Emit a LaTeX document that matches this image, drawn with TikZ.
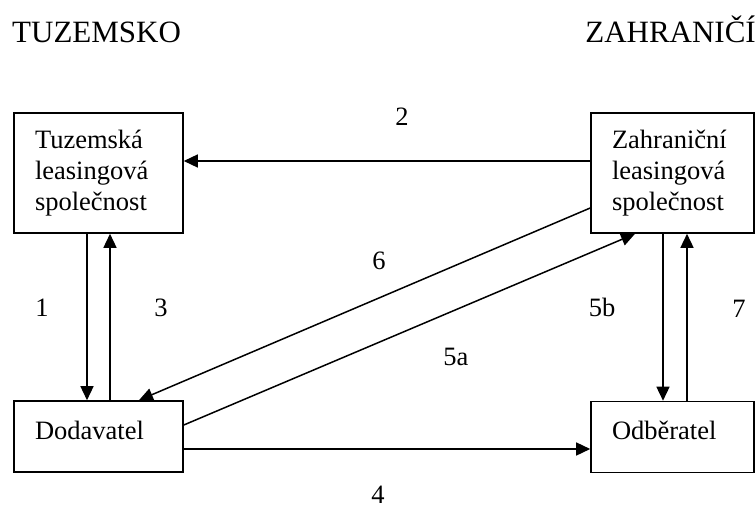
\documentclass[tikz,border=0pt]{standalone}
\usepackage{fontspec}
\setmainfont{Liberation Serif}
\usetikzlibrary{arrows.meta}

\begin{document}
\begin{tikzpicture}[x=1pt,y=-1pt,
  box/.style={draw,line width=1.6pt,inner ysep=0pt,inner xsep=21pt,
    font=\fontsize{26.5}{31}\selectfont,align=left},
  topbox/.style={box,minimum height=120pt},
  lowbox/.style={box,minimum height=71pt,text height=12pt,text depth=7pt},
  num/.style={inner sep=0pt,font=\fontsize{26.5}{31}\selectfont},
  head/.style={inner sep=0pt,font=\fontsize{31}{37}\selectfont},
  flow/.style={line width=1.5pt,-{Triangle[length=14pt,width=13pt]}}]
\useasboundingbox (0,0) rectangle (755,511);

% column headings
\node[head,anchor=base west] (hdom) at (12,43) {TUZEMSKO};
\node[head,anchor=base east] (hfor) at (756,43) {ZAHRANIČÍ};

% parties
\node[topbox,minimum width=169pt,text width=127pt] (tl) at (98.5,173)
  {Tuzemská\\leasingová\\společnost};
\node[topbox,minimum width=163pt,text width=121pt] (tr) at (672.5,173)
  {Zahraniční\\leasingová\\společnost};
\node[lowbox,minimum width=169pt,text width=127pt] (bl) at (98.5,436.5)
  {Dodavatel};
\node[lowbox,minimum width=163pt,text width=121pt] (br) at (672.5,437)
  {Odběratel};

% flows
\draw[flow] ([yshift=12pt]tr.west) -- ([yshift=12pt]tl.east);
\draw[flow] ([xshift=-11.5pt]tl.south) -- ([xshift=-11.5pt]bl.north);
\draw[flow] ([xshift=11.5pt]bl.north) -- ([xshift=11.5pt]tl.south);
\draw[flow] ([yshift=-35pt]tr.west) -- ([xshift=40.5pt]bl.north);
\draw[flow] ([yshift=11.5pt]bl.east) -- ([xshift=-37.5pt]tr.south);
\draw[flow] ([xshift=-9.5pt]tr.south) -- ([xshift=-9.5pt]br.north);
\draw[flow] ([xshift=14.5pt]br.north) -- ([xshift=14.5pt]tr.south);
\draw[flow] ([yshift=-12.5pt]bl.east) -- ([yshift=-12pt]br.west);

% flow numbers
\node[num] (n2) at (402,117) {2};
\node[num] (n1) at (42,308) {1};
\node[num] (n3) at (161,308) {3};
\node[num] (n6) at (379,261) {6};
\node[num] (n5a) at (456,357) {5a};
\node[num] (n5b) at (602,307) {5b};
\node[num] (n7) at (739,309) {7};
\node[num] (n4) at (378,495) {4};
\end{tikzpicture}
\end{document}
